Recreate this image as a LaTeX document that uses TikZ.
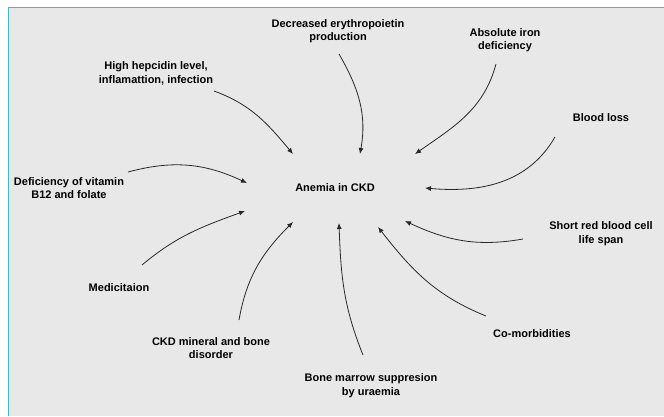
\documentclass[tikz,border=0pt]{standalone}
\usepackage{fontspec}
\setmainfont{Liberation Sans}
\usetikzlibrary{arrows.meta}

\definecolor{panelgray}{RGB}{232,232,232}
\definecolor{frameteal}{RGB}{62,188,194}
\definecolor{inkgray}{RGB}{40,40,40}

\tikzset{
  cause/.style={align=center,inner sep=0pt,text=black,
    font=\bfseries\fontsize{11}{13.5}\selectfont},
  link/.style={->,draw=inkgray,line width=0.8pt}
}

\begin{document}
\begin{tikzpicture}[x=1pt,y=1pt,>={Latex[length=6pt,width=5pt]}]

\useasboundingbox (0,0) rectangle (664,416);
\fill[white] (0,0) rectangle (664,416);
\fill[panelgray] (8.5,0) rectangle (664,408.5);
\draw[frameteal,line width=1.8pt] (8.5,0) -- (8.5,408.5) -- (664,408.5);

\node[cause]
(ckd)
at (335,228)
{Anemia in CKD};

\node[cause]
(ery)
at (338,385)
{Decreased erythropoietin\\production};

\node[cause]
(iron)
at (505,376)
{Absolute iron\\deficiency};

\node[cause]
(blood)
at (601,298)
{Blood loss};

\node[cause]
(hep)
at (156,342.5)
{High hepcidin level,\\inflamattion, infection};

\node[cause]
(vit)
at (69,228)
{Deficiency of vitamin\\B12 and folate};

\node[cause]
(med)
at (119,128)
{Medicitaion};

\node[cause]
(bone)
at (211,68)
{CKD mineral and bone\\disorder};

\node[cause]
(marrow)
at (371,30.5)
{Bone marrow suppresion\\by uraemia};

\node[cause]
(comorb)
at (532,82)
{Co-morbidities};

\node[cause]
(short)
at (601,182.5)
{Short red blood cell\\life span};

\draw[link]
([shift={(58,-17.5)}]hep.center) to[out=-20,in=130] ([shift={(-42,34)}]ckd.center);

\draw[link]
([shift={(59,16)}]vit.center) to[out=15,in=155] ([shift={(-88,5)}]ckd.center);

\draw[link]
([shift={(1,-23)}]ery.center) to[out=-60,in=80] ([shift={(25,34)}]ckd.center);

\draw[link]
([shift={(-9,-24)}]iron.center) to[out=-105,in=35] ([shift={(80,34)}]ckd.center);

\draw[link]
([shift={(-46,-19)}]blood.center) to[out=-120,in=-5] ([shift={(90,0)}]ckd.center);

\draw[link]
([shift={(-78,-5.5)}]short.center) to[out=190,in=-25] ([shift={(70,-33)}]ckd.center);

\draw[link]
([shift={(-46,18)}]comorb.center) to[out=158,in=-52] ([shift={(43,-39)}]ckd.center);

\draw[link]
([shift={(-8,30.5)}]marrow.center) to[out=112,in=-88] ([shift={(4,-35)}]ckd.center);

\draw[link]
([shift={(28,28)}]bone.center) to[out=80,in=225] ([shift={(-42,-34)}]ckd.center);

\draw[link]
([shift={(23,23)}]med.center) to[out=40,in=200] ([shift={(-90,-23)}]ckd.center);

\end{tikzpicture}
\end{document}
